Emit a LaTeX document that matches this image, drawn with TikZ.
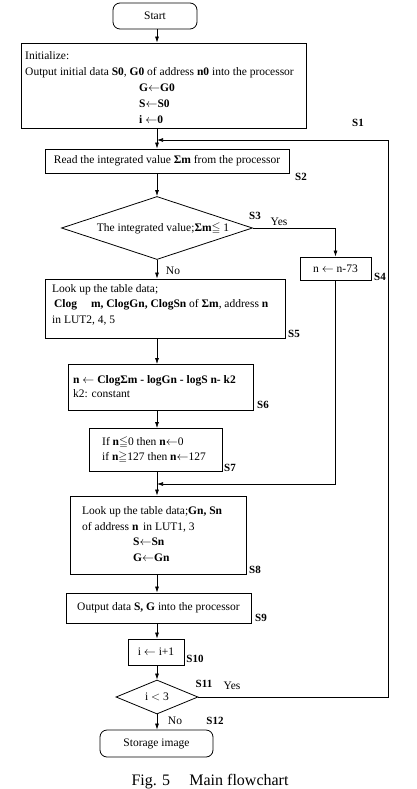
\documentclass[tikz,border=0pt]{standalone}
\usepackage{amsmath, amssymb}
\usepackage{fontspec}
\setmainfont{Liberation Serif}
\usepackage{tikz}
\usetikzlibrary{shapes}
\usetikzlibrary{positioning, arrows.meta}

\begin{document}
\begin{tikzpicture}[x=1pt,y=-1pt,
    every node/.style={font=\fontsize{11.5}{15.5}\selectfont},
    box/.style={draw,line width=0.8pt,inner sep=0pt},
    term/.style={box,rounded corners=7pt},
    dec/.style={draw,diamond,line width=0.8pt,inner sep=0pt},
    txt/.style={align=left,inner sep=0pt,anchor=north west},
    tag/.style={font=\fontsize{11}{13}\selectfont\bfseries},
    flow/.style={-{Latex[length=6pt,width=4pt]},line width=0.7pt}]
                  \useasboundingbox (0,0) rectangle (416,789);
                  \coordinate (spine) at (157,0);
                  \coordinate (rail) at (388,0);
                  \coordinate (back) at (157,140);
                  \coordinate (join) at (157,484);
                  % boxes
                  \node[term,minimum width=84,minimum height=26] (st) at (155,16) {Start};
                  \node[box,minimum width=285,minimum height=85] (s1) at (163.5,85.5) {};
                  \node[txt,font=\fontsize{11.5}{16.2}\selectfont] (s1t) at (25,51) {Initialize:\\
                    Output initial data \textbf{S0}, \textbf{G0} of address \textbf{n0} into the processor};
                  \node[txt,font=\fontsize{11.5}{16.2}\selectfont] (s1u) at (139,83.4) {\textbf{G}$\leftarrow$\textbf{G0}\\
                    \textbf{S}$\leftarrow$\textbf{S0}\\
                    \textbf{i} $\leftarrow$\textbf{0}};
                  \node[box,minimum width=244,minimum height=24] (s2) at (167,161) {Read the integrated value \textbf{Σm} from the processor};
                  \node[dec,minimum width=191,minimum height=63] (s3) at (157,228) {};
                  \node (s3t) at (163,229) {The integrated value;\textbf{Σm}$\leqq$ 1};
                  \node[box,minimum width=71,minimum height=23] (s4) at (335.5,268.5) {n $\leftarrow$ n-73};
                  \node[box,minimum width=240,minimum height=59] (s5) at (165,308.5) {};
                  \node[txt] (s5t) at (52,284) {Look up the table data;\\
                    \textbf{\,Clog\hspace{14pt}m, ClogGn, ClogSn} of \textbf{Σm}, address \textbf{n}\\
                    in LUT2, 4, 5};
                  \node[box,minimum width=185,minimum height=46] (s6) at (160.5,387.5) {};
                  \node[txt,font=\fontsize{11.5}{14.5}\selectfont] (s6t) at (73,375) {\textbf{n $\leftarrow$ ClogΣm - logGn - logS n- k2}\\
                    k2: constant};
                  \node[box,minimum width=133,minimum height=43] (s7) at (155.5,450) {};
                  \node[txt,font=\fontsize{11.5}{15}\selectfont] (s7t) at (102,437) {If \textbf{n}$\leqq$0 then \textbf{n}$\leftarrow$0\\
                    if \textbf{n}$\geqq$127 then \textbf{n}$\leftarrow$127};
                  \node[box,minimum width=176,minimum height=78] (s8) at (158,535) {};
                  \node[txt,font=\fontsize{11.5}{16}\selectfont] (s8t) at (82,506) {Look up the table data;\textbf{Gn, Sn}\\
                    of address \textbf{n}\, in LUT1, 3};
                  \node[txt,font=\fontsize{11.5}{16}\selectfont] (s8u) at (133,538) {\textbf{S}$\leftarrow$\textbf{Sn}\\
                    \textbf{G}$\leftarrow$\textbf{Gn}};
                  \node[box,minimum width=185,minimum height=30] (s9) at (158.5,608) {Output data \textbf{S, G} into the processor};
                  \node[box,minimum width=56,minimum height=26] (s10) at (156,652) {i $\leftarrow$ i+1};
                  \node[dec,minimum width=82,minimum height=34] (s11) at (157,697) {};
                  \node (s11t) at (157,697) {i $<$ 3};
                  \node[term,minimum width=113,minimum height=27] (s12) at (156.5,743.5) {Storage image};
                  % step tags
                  \node[tag] (t1) at (358,123) {S1};
                  \node[tag] (t2) at (301,177) {S2};
                  \node[tag] (t3) at (255,216) {S3};
                  \node[tag] (t4) at (380,277) {S4};
                  \node[tag] (t5) at (294,334) {S5};
                  \node[tag] (t6) at (263,405) {S6};
                  \node[tag] (t7) at (230,468) {S7};
                  \node[tag] (t8) at (255,570) {S8};
                  \node[tag] (t9) at (261,618) {S9};
                  \node[tag] (t10) at (195,659) {S10};
                  \node[tag] (t11) at (204,684) {S11};
                  \node[tag] (t12) at (215,721) {S12};
                  \node (y3) at (279,222) {Yes};
                  \node (n3) at (173,271) {No};
                  \node (y11) at (232,686) {Yes};
                  \node (n11) at (175,721) {No};
                  % connectors
                  \draw[flow] (st.south -| spine) -- (s1.north -| spine);
                  \draw[flow] (s1.south -| spine) -- (s2.north -| spine);
                  \draw[flow] (s2.south -| spine) -- (s3.north);
                  \draw[flow] (s3.east) -| (s4.north);
                  \draw[flow] (s3.south) -- (s5.north -| spine);
                  \draw[flow] (s5.south -| spine) -- (s6.north -| spine);
                  \draw[flow] (s6.south -| spine) -- (s7.north -| spine);
                  \draw[flow] (s7.south -| spine) -- (s8.north -| spine);
                  \draw[flow] (s4.south) |- (join);
                  \draw[flow] (s8.south -| spine) -- (s9.north -| spine);
                  \draw[flow] (s9.south -| spine) -- (s10.north -| spine);
                  \draw[flow] (s10.south -| spine) -- (s11.north);
                  \draw[flow] (s11.south) -- (s12.north -| spine);
                  \draw[flow] (s11.east) -- (s11.east -| rail) |- (back);
                  % caption
                  \node[font=\fontsize{16}{18}\selectfont] (cap) at (210,782) {Fig. 5\hspace{1.2em}Main flowchart};
              \end{tikzpicture}
\end{document}
